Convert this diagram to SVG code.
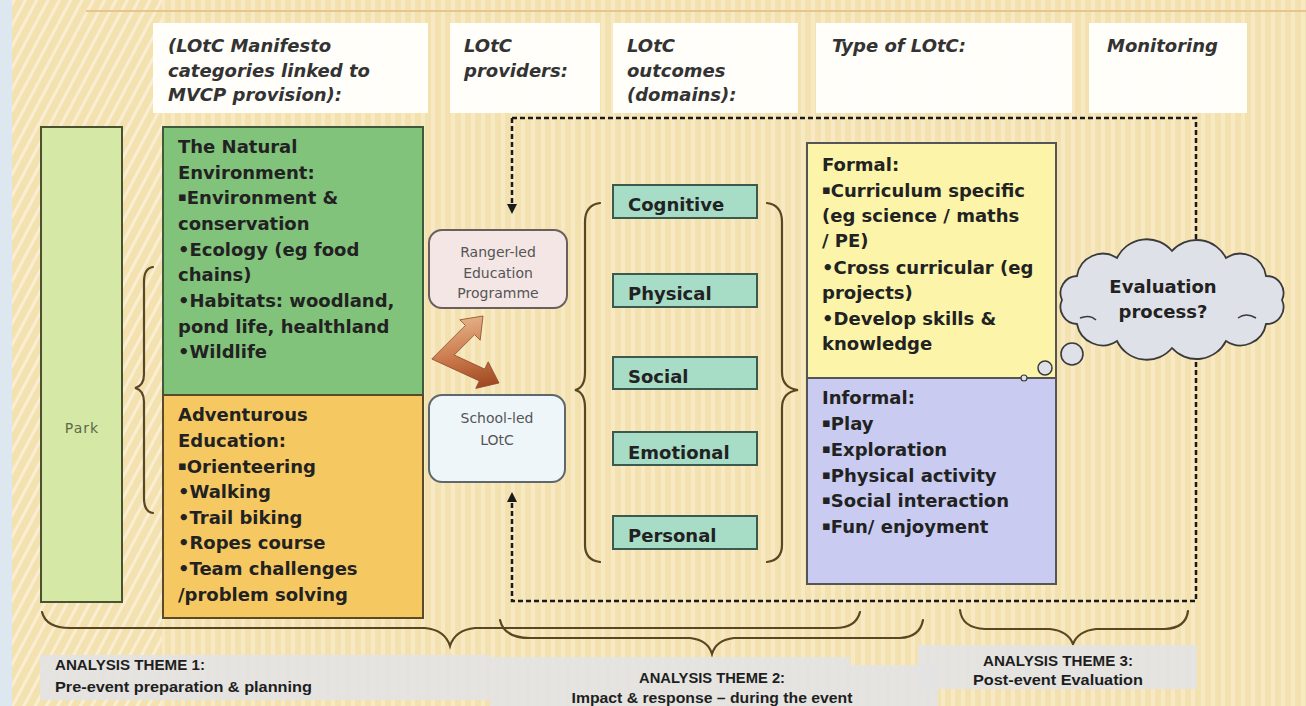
<svg xmlns="http://www.w3.org/2000/svg" width="1306" height="706" viewBox="0 0 1306 706">
<defs>
<style>
.t{font-family:"DejaVu Sans","Liberation Sans",sans-serif;font-weight:bold;font-size:18px;fill:#222}
.h{font-family:"DejaVu Sans","Liberation Sans",sans-serif;font-weight:bold;font-style:italic;font-size:18px;fill:#333}
.s{font-family:"DejaVu Sans","Liberation Sans",sans-serif;font-size:14px;fill:#555;text-anchor:middle}
.lab{font-family:"Liberation Sans",Arial,sans-serif;font-weight:bold;font-size:14px;fill:#1e1e1e}
.sq{font-size:13px;baseline-shift:3px}
.hb{fill:#fffffd;opacity:.95}
.brace{fill:none;stroke:#5a4622;stroke-width:2.2;stroke-linecap:round}
.dash{fill:none;stroke:#1a1a1a;stroke-width:2.5;stroke-dasharray:5 3}
.dom{fill:#a7dcc7;stroke:#3b5a4d;stroke-width:2}
.lb{fill:#e3e3e3;opacity:.92}
</style>
<pattern id="vs" width="10" height="20" patternUnits="userSpaceOnUse">
<rect width="10" height="20" fill="#f3e1b0"/>
<rect x="1" width="4" height="20" fill="#f7e9c3"/>
</pattern>
<pattern id="ds" width="10" height="20" patternUnits="userSpaceOnUse" patternTransform="rotate(28)">
<rect width="10" height="20" fill="#f3e1b0"/>
<rect x="1" width="3" height="20" fill="#f9eed2"/>
</pattern>
<marker id="ah" viewBox="0 0 10 10" refX="2" refY="5" markerWidth="4" markerHeight="4" orient="auto" markerUnits="strokeWidth">
<path d="M0,0 L10,5 L0,10 z" fill="#1a1a1a"/>
</marker>
<linearGradient id="brown" gradientUnits="userSpaceOnUse" x1="475" y1="318" x2="490" y2="388">
<stop offset="0" stop-color="#e2ad82"/>
<stop offset="0.5" stop-color="#c9774a"/>
<stop offset="1" stop-color="#9c4620"/>
</linearGradient>
</defs>

<!-- background -->
<rect width="1306" height="706" fill="url(#vs)"/>
<rect x="12" y="0" width="150" height="706" fill="url(#ds)"/>
<rect x="0" y="0" width="12" height="706" fill="#dde7f0"/>
<line x1="86" y1="11" x2="1306" y2="11" stroke="#e6c68e" stroke-width="2"/>

<!-- header boxes -->
<g id="hdr-categories">
<rect class="hb" x="153" y="23" width="275" height="90"/>
<text class="h" x="168" y="52">(LOtC Manifesto</text>
<text class="h" x="168" y="77">categories linked to</text>
<text class="h" x="168" y="101">MVCP provision):</text>
</g>
<g id="hdr-providers">
<rect class="hb" x="450" y="23" width="150" height="90"/>
<text class="h" x="464" y="52">LOtC</text>
<text class="h" x="464" y="77">providers:</text>
</g>
<g id="hdr-outcomes">
<rect class="hb" x="613" y="23" width="185" height="90"/>
<text class="h" x="627" y="52">LOtC</text>
<text class="h" x="627" y="77">outcomes</text>
<text class="h" x="627" y="101">(domains):</text>
</g>
<g id="hdr-type">
<rect class="hb" x="816" y="23" width="256" height="90"/>
<text class="h" x="832" y="52">Type of LOtC:</text>
</g>
<g id="hdr-monitoring">
<rect class="hb" x="1089" y="23" width="158" height="90"/>
<text class="h" x="1107" y="52">Monitoring</text>
</g>

<!-- connectors -->
<g id="connectors">
<path class="dash" d="M512,118 H1196 V601 H512 V500" marker-end="url(#ah)"/>
<path class="dash" d="M512,118 V206" marker-end="url(#ah)"/>
<path class="brace" d="M153,267 Q144,268 144,282 L144,374 Q144,386 135,388 Q144,390 144,402 L144,498 Q144,512 153,513"/>
<path class="brace" d="M600,203 Q585,205 585,222 L585,372 Q585,388 575,390 Q585,392 585,408 L585,545 Q585,560 600,562"/>
<path class="brace" d="M767,203 Q782,205 782,222 L782,372 Q782,388 798,390 Q782,392 782,408 L782,545 Q782,560 767,562"/>
<path class="brace" d="M42,612 Q46,628 70,628 L425,628 Q445,630 450,646 Q455,630 475,628 L835,628 Q856,628 860,612"/>
<path class="brace" d="M500,620 Q504,638 530,638 L690,638 Q708,640 712,654 Q716,640 734,638 L900,638 Q920,637 923,620"/>
<path class="brace" d="M960,610 Q962,628 985,629 L1050,629 Q1068,631 1073,644 Q1078,631 1096,629 L1165,629 Q1186,628 1188,611"/>
<polygon id="swap-arrow" points="431.8,359 465.4,325.4 459.8,319.8 483,316 480.2,340.2 474.6,334.6 454.2,355 484.7,369.1 488.2,361.8 499,383 475.8,388.4 479.3,380.9" fill="url(#brown)" stroke="#8a4a28" stroke-width="0.8" stroke-linejoin="round"/>
</g>

<!-- park -->
<g id="park">
<rect x="41" y="127" width="81" height="475" fill="#d5e8a5" stroke="#4a5230" stroke-width="2"/>
<text x="82" y="433" text-anchor="middle" style="font-family:'DejaVu Sans',sans-serif;font-size:14px;fill:#5b6a4b;letter-spacing:1px">Park</text>
</g>

<!-- natural environment -->
<g id="natural">
<rect x="163" y="127" width="260" height="268" fill="#82c37c" stroke="#3d5a3a" stroke-width="2"/>
<text class="t" x="178" y="153">The Natural</text>
<text class="t" x="178" y="179">Environment:</text>
<text class="t" x="178" y="204"><tspan class="sq">▪</tspan>Environment &amp;</text>
<text class="t" x="178" y="230">conservation</text>
<text class="t" x="178" y="256">•Ecology (eg food</text>
<text class="t" x="178" y="281">chains)</text>
<text class="t" x="178" y="307">•Habitats: woodland,</text>
<text class="t" x="178" y="333">pond life, healthland</text>
<text class="t" x="178" y="358">•Wildlife</text>
</g>

<!-- adventurous education -->
<g id="adventurous">
<rect x="163" y="395" width="260" height="223" fill="#f6c861" stroke="#5a4a2a" stroke-width="2"/>
<text class="t" x="178" y="421">Adventurous</text>
<text class="t" x="178" y="447">Education:</text>
<text class="t" x="178" y="473"><tspan class="sq">▪</tspan>Orienteering</text>
<text class="t" x="178" y="498">•Walking</text>
<text class="t" x="178" y="524">•Trail biking</text>
<text class="t" x="178" y="549">•Ropes course</text>
<text class="t" x="178" y="575">•Team challenges</text>
<text class="t" x="178" y="601">/problem solving</text>
</g>

<!-- providers -->
<g id="ranger">
<rect x="429" y="230" width="138" height="78" rx="13" fill="#f3e6e5" stroke="#6b5e5e" stroke-width="2"/>
<text class="s" x="498" y="257">Ranger-led</text>
<text class="s" x="498" y="278">Education</text>
<text class="s" x="498" y="298">Programme</text>
</g>
<g id="school">
<rect x="429" y="395" width="136" height="87" rx="13" fill="#eef6fa" stroke="#5e686c" stroke-width="2"/>
<text class="s" x="497" y="423">School-led</text>
<text class="s" x="497" y="445">LOtC</text>
</g>

<!-- outcome domains -->
<g id="cognitive"><rect class="dom" x="613" y="185" width="144" height="33"/><text class="t" x="628" y="211">Cognitive</text></g>
<g id="physical"><rect class="dom" x="613" y="274" width="144" height="33"/><text class="t" x="628" y="300">Physical</text></g>
<g id="social"><rect class="dom" x="613" y="357" width="144" height="32"/><text class="t" x="628" y="383">Social</text></g>
<g id="emotional"><rect class="dom" x="613" y="432" width="144" height="33"/><text class="t" x="628" y="459">Emotional</text></g>
<g id="personal"><rect class="dom" x="613" y="516" width="144" height="33"/><text class="t" x="628" y="542">Personal</text></g>

<!-- formal / informal -->
<g id="formal">
<rect x="807" y="143" width="249" height="235" fill="#fbf4a9" stroke="#555" stroke-width="2"/>
<text class="t" x="822" y="171">Formal:</text>
<text class="t" x="822" y="197"><tspan class="sq">▪</tspan>Curriculum specific</text>
<text class="t" x="822" y="222">(eg science / maths</text>
<text class="t" x="822" y="247">/ PE)</text>
<text class="t" x="822" y="274">•Cross curricular (eg</text>
<text class="t" x="822" y="299">projects)</text>
<text class="t" x="822" y="325">•Develop skills &amp;</text>
<text class="t" x="822" y="350">knowledge</text>
</g>
<g id="informal">
<rect x="807" y="378" width="249" height="206" fill="#c9cbf0" stroke="#555" stroke-width="2"/>
<text class="t" x="822" y="404">Informal:</text>
<text class="t" x="822" y="430"><tspan class="sq">▪</tspan>Play</text>
<text class="t" x="822" y="456"><tspan class="sq">▪</tspan>Exploration</text>
<text class="t" x="822" y="482"><tspan class="sq">▪</tspan>Physical activity</text>
<text class="t" x="822" y="507"><tspan class="sq">▪</tspan>Social interaction</text>
<text class="t" x="822" y="533"><tspan class="sq">▪</tspan>Fun/ enjoyment</text>
</g>

<!-- evaluation cloud -->
<g id="evaluation">
<path d="M1282,300 A17,17 0 0 1 1266,324 A26,26 0 0 1 1226,341 A33,33 0 0 1 1172,348 A33,33 0 0 1 1117,341 A26,26 0 0 1 1077,324 A17,17 0 0 1 1062,300 A17,17 0 0 1 1077,276 A26,26 0 0 1 1117,258 A33,33 0 0 1 1172,251 A33,33 0 0 1 1226,258 A26,26 0 0 1 1266,276 A17,17 0 0 1 1282,300 Z" fill="#dfe1e8" stroke="#3a3a3a" stroke-width="1.8"/>
<path d="M1080,318 Q1090,314 1096,320 M1238,318 Q1246,312 1256,318" fill="none" stroke="#3a3a3a" stroke-width="1.5"/>
<circle cx="1072" cy="354" r="11" fill="#dfe1e8" stroke="#3a3a3a" stroke-width="1.6"/>
<circle cx="1045" cy="368" r="7" fill="#dfe1e8" stroke="#3a3a3a" stroke-width="1.5"/>
<circle cx="1024" cy="378" r="3" fill="#dfe1e8" stroke="#3a3a3a" stroke-width="1.2"/>
<text class="t" x="1163" y="293" text-anchor="middle">Evaluation</text>
<text class="t" x="1163" y="318" text-anchor="middle">process?</text>
</g>

<!-- analysis themes -->
<g id="theme1">
<rect class="lb" x="40" y="655" width="450" height="45"/>
<text class="lab" x="55" y="670" textLength="150" lengthAdjust="spacingAndGlyphs">ANALYSIS THEME 1:</text>
<text class="lab" x="55" y="692" textLength="257" lengthAdjust="spacingAndGlyphs">Pre-event preparation &amp; planning</text>
</g>
<g id="theme2">
<polygon class="lb" points="490,657 850,657 850,665 938,665 938,706 490,706"/>
<text class="lab" x="712" y="683" text-anchor="middle" textLength="146" lengthAdjust="spacingAndGlyphs">ANALYSIS THEME 2:</text>
<text class="lab" x="712" y="703" text-anchor="middle" textLength="281" lengthAdjust="spacingAndGlyphs">Impact &amp; response – during the event</text>
</g>
<g id="theme3">
<rect class="lb" x="918" y="645" width="279" height="44"/>
<text class="lab" x="1058" y="666" text-anchor="middle" textLength="150" lengthAdjust="spacingAndGlyphs">ANALYSIS THEME 3:</text>
<text class="lab" x="1058" y="685" text-anchor="middle" textLength="170" lengthAdjust="spacingAndGlyphs">Post-event Evaluation</text>
</g>
</svg>
